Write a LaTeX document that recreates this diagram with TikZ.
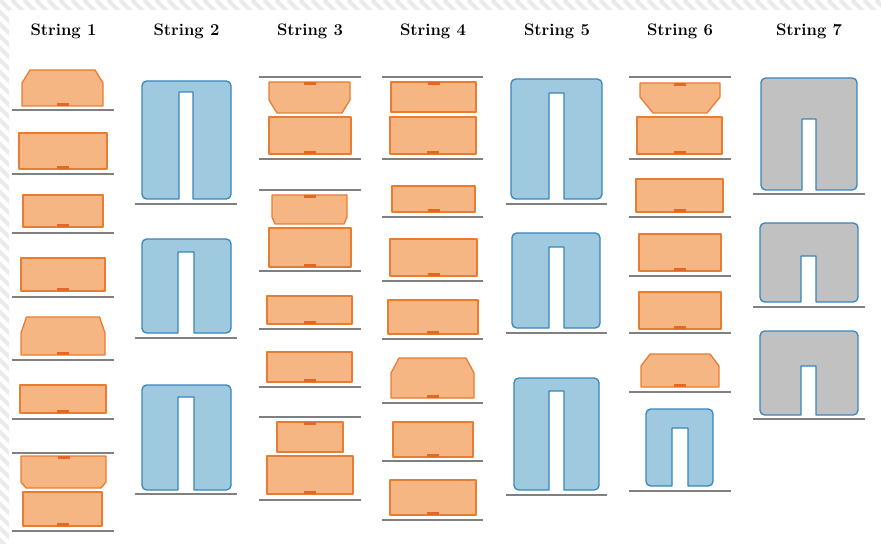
\documentclass[tikz,border=0pt]{standalone}
\usepackage{xcolor}
\definecolor{padfill}{RGB}{246,182,132}
\definecolor{padedge}{RGB}{232,124,48}
\definecolor{notchc}{RGB}{228,104,36}
\definecolor{blkfill}{RGB}{158,201,222}
\definecolor{blkedge}{RGB}{58,133,190}
\definecolor{greyfill}{RGB}{193,193,193}
\definecolor{groundc}{RGB}{128,128,128}
\definecolor{hatchc}{RGB}{234,234,234}
\usepackage{tikz}
\usetikzlibrary{positioning}

% pads: x1 y1 x2 y2 (pixels, y down)
\newcommand\notchb[2]{\fill[notch] ({#1-6},{#2-3.2}) rectangle ({#1+6},#2);}
\newcommand\notcht[2]{\fill[notch] ({#1-6},#2) rectangle ({#1+6},{#2+3.2});}
\newcommand\padb[4]{\draw[pad] (#1,#2) rectangle (#3,#4); \notchb{(#1+#3)/2}{#4}}
\newcommand\padt[4]{\draw[pad] (#1,#2) rectangle (#3,#4); \notcht{(#1+#3)/2}{#2}}
\newcommand\padtop[6]{\draw[pad] (#1,#4) -- (#1,{#2+#6}) -- ({#1+#5},#2) -- ({#3-#5},#2)
  -- (#3,{#2+#6}) -- (#3,#4) -- cycle; \notchb{(#1+#3)/2}{#4}}
\newcommand\padbot[6]{\draw[pad] (#1,#2) -- (#3,#2) -- (#3,{#4-#6}) -- ({#3-#5},#4)
  -- ({#1+#5},#4) -- (#1,{#4-#6}) -- cycle; \notcht{(#1+#3)/2}{#2}}
% U blocks: x1 y1 x2 y2, slot x1 x2, slot top
\newcommand\ublk[8][ublock]{\draw[#1] (#6,#5) [rounded corners=4pt] -- (#2,#5) -- (#2,#3)
  -- (#4,#3) -- (#4,#5) [sharp corners] -- (#7,#5) -- (#7,#8) -- (#6,#8) -- cycle;}

\begin{document}
\begin{tikzpicture}[
  x=0.03cm, y=-0.03cm,
  pad/.style={draw=padedge, fill=padfill, line width=1.1pt, line join=round},
  notch/.style={fill=notchc},
  ublock/.style={draw=blkedge, fill=blkfill, line width=1.1pt, line join=round},
  gblock/.style={ublock, fill=greyfill},
  ground/.style={draw=groundc, line width=1.6pt},
  hatch/.style={draw=hatchc, line width=3.4pt},
  title/.style={font=\fontsize{14.2}{16}\selectfont\bfseries, anchor=base},
]
\useasboundingbox (0,0) rectangle (881,544);

% hatched frame
\begin{scope}
  \clip (0,0) rectangle (881,544);
  \foreach \s in {-600,-588,...,900}
    \draw[hatch] (\s,0) -- ++(560,560);
\end{scope}
\fill[white] (9,10) rectangle (881,544);

\foreach \i/\x in {1/63.5,2/186.5,3/310,4/433,5/557,6/680,7/809}
  \node[title] (t\i) at (\x,36) {String \i};

% ground lines
\foreach \y in {110,174,233,297,360,419,453,531}
  \draw[ground] (12,\y) -- (114,\y);
\foreach \y in {204,338,494}
  \draw[ground] (135,\y) -- (237,\y);
\foreach \y in {77,159,190,271,329,387,417,500}
  \draw[ground] (259,\y) -- (361,\y);
\foreach \y in {77,159,217,281,339,403,461,520}
  \draw[ground] (382,\y) -- (483,\y);
\foreach \y in {204,333,495}
  \draw[ground] (506,\y) -- (607,\y);
\foreach \y in {77,159,217,276,333,392,491}
  \draw[ground] (629,\y) -- (731,\y);
\foreach \y in {194,307,419}
  \draw[ground] (753,\y) -- (865,\y);

% string 1
\padtop{22}{70}{103}{106}{8}{13}
\padb{19}{133}{107}{169}
\padb{23}{195}{103}{227}
\padb{21}{258}{105}{291}
\padtop{21}{317}{105}{355}{5.5}{16}
\padb{20}{385}{106}{413}
\padbot{21}{456}{106}{488}{5}{6}
\padb{23}{492}{102}{526}

% string 2
\ublk{142}{81}{231}{199}{179}{193}{92}
\ublk{142}{239}{231}{333}{178}{194}{252}
\ublk{142}{385}{231}{490}{178}{194}{397}

% string 3
\padbot{269}{82}{350}{113}{8}{13}
\padb{269}{117}{351}{154}
\padbot{272}{195}{347}{224}{3}{7}
\padb{269}{228}{351}{267}
\padb{267}{296}{352}{324}
\padb{267}{352}{352}{382}
\padt{277}{422}{343}{452}
\padb{267}{456}{353}{494}

% string 4
\padt{391}{82}{476}{112}
\padb{390}{117}{476}{154}
\padb{392}{186}{475}{212}
\padb{390}{239}{477}{276}
\padb{388}{300}{478}{334}
\padtop{391}{358}{474}{398}{8}{15}
\padb{393}{422}{473}{457}
\padb{390}{480}{476}{515}

% string 5
\ublk{511}{79}{602}{199}{549}{564}{93}
\ublk{512}{233}{600}{328}{549}{564}{247}
\ublk{514}{378}{599}{490}{549}{564}{391}

% string 6
\padbot{640}{83}{720}{113}{13}{16}
\padb{637}{117}{722}{154}
\padb{636}{179}{723}{212}
\padb{639}{234}{721}{271}
\padb{639}{292}{721}{329}
\padtop{641}{354}{719}{387}{9}{12}
\ublk{646}{409}{713}{486}{672}{688}{428}

% string 7
\ublk[gblock]{761}{78}{857}{190}{802}{816}{119}
\ublk[gblock]{760}{223}{858}{302}{801}{816}{256}
\ublk[gblock]{760}{331}{858}{415}{801}{816}{366}
\end{tikzpicture}
\end{document}
